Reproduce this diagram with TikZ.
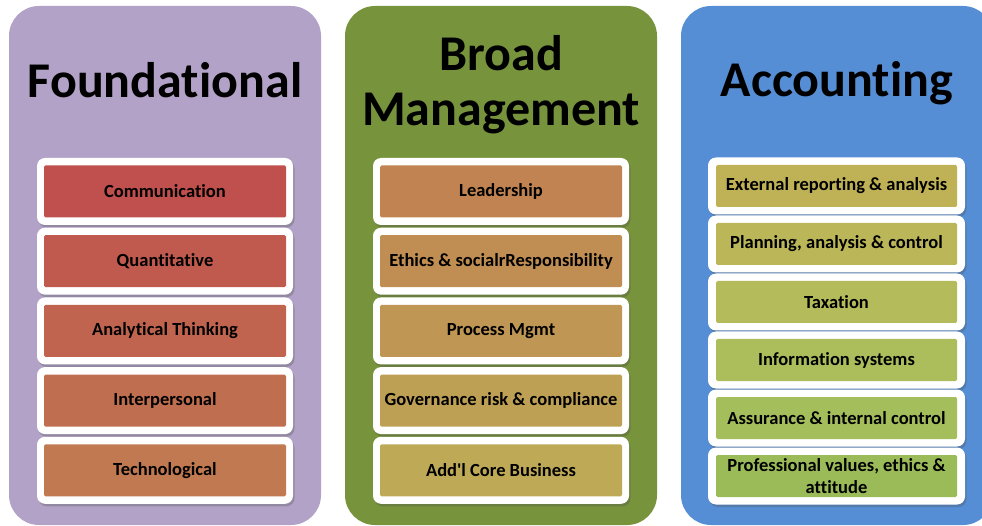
\documentclass[tikz,border=0pt]{standalone}
\usepackage{fontspec}
\setmainfont{Carlito}[Ligatures={NoCommon}]
\usetikzlibrary{shadows}

% panel fills
\definecolor{lavender}{RGB}{179,162,199}
\definecolor{olivegreen}{RGB}{119,147,60}
\definecolor{skyblue}{RGB}{85,142,213}
% foundational items
\definecolor{fa}{RGB}{192,80,77}
\definecolor{fb}{RGB}{192,90,78}
\definecolor{fc}{RGB}{192,100,79}
\definecolor{fd}{RGB}{192,110,80}
\definecolor{fe}{RGB}{192,121,81}
% management items
\definecolor{ma}{RGB}{192,131,81}
\definecolor{mb}{RGB}{192,141,83}
\definecolor{mc}{RGB}{191,150,84}
\definecolor{md}{RGB}{190,160,85}
\definecolor{me}{RGB}{190,170,86}
% accounting items
\definecolor{aa}{RGB}{191,178,86}
\definecolor{ab}{RGB}{187,182,88}
\definecolor{ac}{RGB}{180,187,90}
\definecolor{ad}{RGB}{172,189,92}
\definecolor{ae}{RGB}{164,190,92}
\definecolor{af}{RGB}{155,187,89}

\begin{document}
\begin{tikzpicture}[x=1pt,y=-1pt,
  panel/.style={rectangle, rounded corners=30pt, inner sep=0pt, minimum width=312pt, minimum height=519pt},
  heading/.style={font=\bfseries\fontsize{50}{55}\selectfont, align=center, text=black, inner sep=0pt},
  frame/.style={rectangle, fill=white, rounded corners=8pt, inner sep=0pt, minimum width=256pt,
    drop shadow={shadow xshift=1.5pt, shadow yshift=-2.5pt, opacity=0.3, fill=black!70}},
  item/.style={rectangle, rounded corners=1.5pt, inner sep=0pt, minimum width=242pt,
    font=\bfseries\fontsize{18.5}{22}\selectfont, align=center, text=black}]

\clip (0,0) rectangle (982,526);

% three columns
\node[panel, fill=lavender]  (found) at (165,265.5) {};
\node[panel, fill=olivegreen] (mgmt) at (501,265.5) {};
\node[panel, fill=skyblue]   (acct) at (837,265.5) {};

% column headings
\node[heading, anchor=base] (foundT) at (165,98) {Foundational};
\node[heading] (mgmtT) at (501,85) {Broad\\Management};
\node[heading, anchor=base] (acctT) at (837,97) {Accounting};

% foundational skills
\foreach \nm/\col/\txt [count=\i from 0] in {
  comm/fa/Communication, quant/fb/Quantitative, anal/fc/Analytical Thinking,
  inter/fd/Interpersonal, tech/fe/Technological} {
  \node[frame, minimum height=67pt] (\nm-frame) at (165,191.5+69.7*\i) {};
  \node[item, fill=\col, minimum height=52pt] (\nm) at (\nm-frame.center) {\txt};
}

% broad management skills
\foreach \nm/\col/\txt [count=\i from 0] in {
  lead/ma/Leadership, ethic/mb/{Ethics \& socialrResponsibility},
  proc/mc/Process Mgmt, gov/md/{Governance risk \& compliance},
  core/me/{Add\textquotesingle l Core Business}} {
  \node[frame, minimum height=67pt] (\nm-frame) at (501,191.5+69.7*\i) {};
  \node[item, fill=\col, minimum height=52pt] (\nm) at (\nm-frame.center) {\txt};
}

% accounting skills
\foreach \nm/\col/\txt [count=\i from 0] in {
  ext/aa/{External reporting \& analysis}, plan/ab/{Planning, analysis \& control},
  tax/ac/Taxation, info/ad/Information systems,
  assur/ae/{Assurance \& internal control},
  prof/af/{Professional values, ethics \&\\attitude}} {
  \node[frame, minimum width=257pt, minimum height=57pt] (\nm-frame) at (836.5,186+58*\i) {};
  \node[item, fill=\col, minimum width=241pt, minimum height=42pt] (\nm) at (\nm-frame.center) {\txt};
}
\end{tikzpicture}
\end{document}
